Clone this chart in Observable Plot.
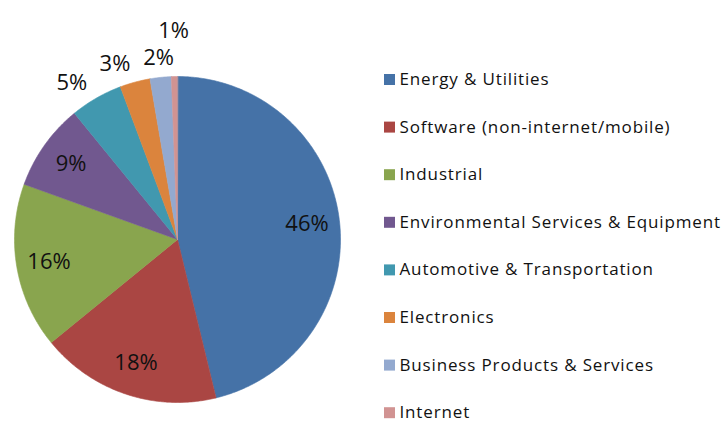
<!DOCTYPE html>
<html><head><meta charset="utf-8">
<script src="https://cdn.jsdelivr.net/npm/d3@7"></script>
<script src="https://cdn.jsdelivr.net/npm/@observablehq/plot@0.6"></script>
<style>body{margin:0;background:#fff;} svg{display:block}</style>
</head><body><div id="chart"></div>
<script>
// ---- data ----
const categories = [
  "Energy & Utilities",
  "Software (non-internet/mobile)",
  "Industrial",
  "Environmental Services & Equipment",
  "Automotive & Transportation",
  "Electronics",
  "Business Products & Services",
  "Internet"
];
const values = [46.2, 17.9, 16.4, 8.6, 5.2, 3.0, 2.1, 0.6];
const colors = ["#4572A7", "#AA4643", "#89A54E", "#71588F", "#4198AF", "#DB843D", "#93A9CF", "#D19392"];

// ---- layout ----
const W = 727, H = 423;
const cx = 177, cy = 239, r = 163;
const labelFont = 22, legendFont = 17;
const font = "'Open Sans', sans-serif";

const arcs = d3.pie().sort(null).value(d => d)(values);

// slice outlines
const slicePts = [];
arcs.forEach((a, i) => {
  const cat = categories[i];
  slicePts.push({cat, px: cx, py: cy});
  const n = Math.max(2, Math.ceil((a.endAngle - a.startAngle) / 0.008));
  for (let k = 0; k <= n; k++) {
    const t = a.startAngle + (a.endAngle - a.startAngle) * k / n;
    slicePts.push({cat, px: cx + r * Math.sin(t), py: cy - r * Math.cos(t)});
  }
});

// percentage labels
const labels = arcs.map((a, i) => {
  const text = Math.round(values[i]) + "%";
  const theta = (a.startAngle + a.endAngle) / 2;
  const w = text.length * 0.7 * labelFont, h = labelFont * 0.75;
  return {text, theta, w, h, outside: values[i] < 8, R: 0};
});
function place(d) {
  const dx = Math.sin(d.theta), dy = -Math.cos(d.theta);
  const R = d.outside ? r + 10 + d.R + (d.w / 2) * Math.abs(dx) + (d.h / 2) * Math.abs(dy) : 0.8 * r;
  d.px = cx + R * dx; d.py = cy + R * dy;
}
labels.forEach(place);
// resolve overlaps between outside labels
const out = labels.filter(d => d.outside);
const padX = 12, padY = 10;
for (let iter = 0; iter < 600; iter++) {
  let moved = false;
  for (let i = 0; i < out.length; i++) for (let j = i + 1; j < out.length; j++) {
    const A = out[i], B = out[j];
    const ox = (A.w + B.w) / 2 + padX - Math.abs(A.px - B.px);
    const oy = (A.h + B.h) / 2 + padY - Math.abs(A.py - B.py);
    if (ox > 0 && oy > 0) {
      moved = true;
      if (Math.abs(Math.sin(B.theta)) < 0.05) { B.R += 1; place(B); }
      else { A.theta -= 1 / 190; place(A); }
    }
  }
  if (!moved) break;
}

const legendY = (d, i) => 79 + 47.6 * i;

const chart = Plot.plot({
  width: W, height: H, margin: 0,
  style: {fontFamily: font, background: "#fff"},
  x: {domain: [0, W], range: [0, W], axis: null},
  y: {domain: [0, H], range: [0, H], axis: null},
  color: {type: "ordinal", domain: categories, range: colors},
  marks: [
    Plot.line(slicePts, {x: "px", y: "py", z: "cat", fill: "cat", stroke: "cat", strokeWidth: 0.6, curve: "linear-closed"}),
    Plot.text(labels, {x: "px", y: "py", text: "text", fontSize: labelFont, fill: "#111", textAnchor: "middle", lineAnchor: "middle"}),
    Plot.dot(categories, {x: () => 389, y: legendY, symbol: "square", r: 6.2, fill: d => d}),
    Plot.text(categories, {x: () => 399, y: legendY, text: d => d, fontSize: legendFont, fill: "#111", textAnchor: "start", lineAnchor: "middle"})
  ]
});
d3.select(chart).selectAll("text")
  .filter(function () { return categories.includes(this.textContent); })
  .attr("letter-spacing", "0.85");
document.getElementById("chart").appendChild(chart);
</script>
</body></html>
